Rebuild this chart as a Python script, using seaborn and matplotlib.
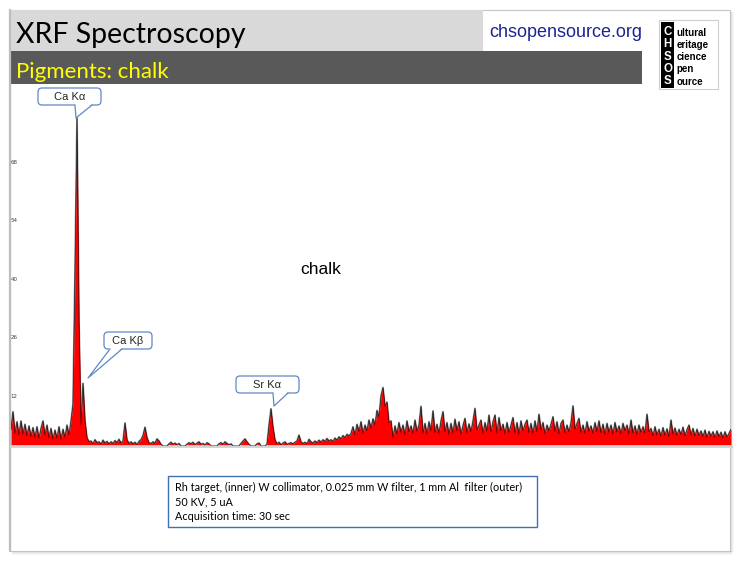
import numpy as np
import matplotlib
matplotlib.use("Agg")
import matplotlib.pyplot as plt
import seaborn as sns
from matplotlib.patches import Rectangle, FancyBboxPatch, Polygon
from matplotlib.lines import Line2D

# ---------------- data ----------------
e_start, e_stop = 0.13, 38.98          # keV range of the channels shown
counts = [
    4.0, 8.2, 3.0, 5.8, 2.6, 6.0, 2.8, 5.2, 2.4, 4.8,
    2.2, 4.4, 2.0, 4.6, 1.8, 4.2, 6.0, 2.6, 5.0, 1.9,
    4.2, 1.6, 3.8, 1.8, 4.6, 1.5, 4.0, 2.0, 5.0, 2.6,
    6.0, 10.0, 42.0, 78.5, 30.0, 5.0, 15.0, 6.0, 2.0, 1.0,
    1.2, 0.5, 1.5, 0.8, 1.0, 0.4, 1.4, 0.7, 1.1, 0.5,
    1.0, 0.6, 1.3, 0.8, 1.6, 0.7, 1.2, 5.5, 1.5, 0.6,
    1.0, 0.5, 0.9, 0.3, 1.1, 1.5, 2.5, 4.5, 2.0, 0.8,
    0.6, 1.0, 0.7, 1.7, 1.2, 0.4, 0.0, 0.0, 0.0, 0.5,
    0.9, 0.4, 0.7, 0.3, 0.6, 0.0, 0.0, 0.0, 0.4, 0.8,
    0.5, 0.9, 0.3, 0.7, 1.0, 0.4, 0.6, 0.2, 0.8, 0.5,
    0.0, 0.0, 0.0, 0.0, 0.5, 0.8, 0.4, 1.0, 0.6, 0.3,
    0.5, 0.0, 0.0, 0.0, 0.0, 0.6, 1.2, 1.7, 1.0, 0.4,
    0.0, 0.0, 0.0, 0.5, 0.7, 0.0, 0.0, 0.0, 0.4, 5.0,
    8.9, 4.5, 1.5, 0.5, 0.9, 0.3, 0.7, 1.0, 0.4, 0.6,
    0.8, 0.5, 0.9, 1.2, 2.6, 1.0, 0.6, 0.9, 0.5, 1.6,
    1.0, 0.7, 1.2, 0.8, 1.4, 0.9, 1.5, 1.1, 1.8, 1.2,
    1.5, 1.1, 1.9, 1.4, 2.2, 1.7, 2.5, 2.0, 2.8, 2.4,
    3.0, 4.6, 2.6, 5.2, 3.4, 5.8, 3.0, 5.0, 3.6, 6.2,
    4.2, 6.5, 5.0, 8.5, 7.0, 12.0, 14.0, 9.5, 10.5, 5.5,
    6.0, 2.0, 4.8, 2.8, 5.6, 3.2, 5.0, 2.6, 6.0, 3.4,
    4.8, 2.9, 6.2, 3.5, 5.0, 9.5, 3.0, 5.4, 2.8, 5.8,
    3.6, 8.4, 3.2, 5.2, 2.9, 6.0, 8.2, 3.3, 5.6, 2.7,
    5.4, 3.0, 6.4, 3.6, 5.8, 2.8, 4.9, 6.6, 3.1, 5.3,
    3.4, 6.0, 9.0, 3.8, 5.0, 6.2, 2.9, 5.6, 3.5, 7.4,
    3.3, 5.8, 7.4, 3.0, 6.8, 3.6, 5.2, 2.8, 5.6, 3.2,
    5.0, 6.8, 3.0, 5.6, 2.7, 6.0, 3.6, 5.2, 6.2, 3.1,
    5.4, 2.9, 6.0, 3.4, 7.6, 3.8, 5.6, 2.8, 5.0, 3.6,
    5.2, 7.0, 3.4, 5.8, 2.8, 5.4, 6.2, 3.0, 5.0, 3.3,
    5.6, 9.6, 4.0, 5.4, 6.6, 3.2, 5.0, 2.9, 5.8, 3.5,
    4.8, 3.0, 5.6, 3.4, 6.0, 3.1, 5.2, 2.7, 5.4, 3.2,
    5.0, 2.8, 5.6, 3.3, 4.8, 2.9, 5.4, 3.6, 5.0, 2.8,
    6.2, 3.0, 4.8, 2.7, 5.0, 3.2, 4.6, 3.0, 7.6, 3.4,
    4.2, 2.4, 4.6, 2.6, 4.0, 2.3, 4.4, 2.5, 4.1, 2.2,
    6.2, 2.8, 4.3, 2.5, 4.0, 2.7, 4.5, 2.4, 3.9, 5.0,
    2.6, 4.2, 2.3, 4.0, 2.5, 3.6, 2.2, 3.8, 2.0, 3.5,
    2.3, 3.4, 2.0, 3.6, 2.2, 3.3, 1.9, 3.4, 2.1, 3.0, 4.0,
]
energy = np.linspace(e_start, e_stop, len(counts))   # channel calibration
y_ticks = [12, 26, 40, 54, 68]
y_max = 86.4

title = "XRF Spectroscopy"
subtitle = "Pigments: chalk"
site = "chsopensource.org"
sample_name = "chalk"
peak_labels = ["Ca Kα", "Ca Kβ", "Sr Kα"]
logo_letters = ["C", "H", "S", "O", "S"]
logo_words = ["ultural", "eritage", "cience", "pen", "ource"]
caption_lines = [
    "Rh target, (inner) W collimator, 0.025 mm W filter, 1 mm Al  filter (outer)",
    "50 KV, 5 uA",
    "Acquisition time: 30 sec",
]

# ---------------- figure ----------------
sns.set_theme(style="white")
plt.rcParams['font.family'] = ['DejaVu Sans']

W, H = 742, 562
fig = plt.figure(figsize=(W / 100, H / 100), dpi=100)
fig.patch.set_facecolor('white')


def frame(x0, y0, x1, y1):
    return [x0 / W, 1 - y1 / H, (x1 - x0) / W, (y1 - y0) / H]


# background layer (pixel coordinates, y downward) for slide decoration
bg = fig.add_axes([0, 0, 1, 1], zorder=0)
bg.set_xlim(0, W)
bg.set_ylim(H, 0)
bg.axis('off')

for i, a in enumerate([0.35, 0.22, 0.12, 0.06]):
    bg.add_patch(Rectangle((12, 551 + i), 720, 1, fc='#808080', ec='none', alpha=a))
    bg.add_patch(Rectangle((730 + i, 12), 1, 540, fc='#808080', ec='none', alpha=a))
bg.add_patch(Rectangle((10, 10), 720, 541, fc='white', ec='#c4c4c4', lw=0.8))
bg.add_line(Line2D([10, 10], [10, 551], color='#bdbdbd', lw=1.6))

# header blocks
bg.add_patch(Rectangle((10, 10), 473, 41, fc='#d9d9d9', ec='none'))
bg.add_patch(Rectangle((10, 51), 632, 33, fc='#595959', ec='none'))
bg.text(16, 43, title, fontsize=20.5, family=['Lato', 'DejaVu Sans'], color='black',
        ha='left', va='baseline')
bg.text(16, 78, subtitle, fontsize=16, family=['Lato', 'DejaVu Sans'], color='#ffff00',
        ha='left', va='baseline')
bg.text(489, 37, site, fontsize=13, family=['Liberation Sans', 'DejaVu Sans'], color='#1c2490',
        ha='left', va='baseline')

# logo
bg.add_patch(Rectangle((659, 20), 59, 69, fc='white', ec='#cfcfcf', lw=0.8))
bg.add_patch(Rectangle((661, 22), 13, 66, fc='black', ec='none'))
for k, (L, wd) in enumerate(zip(logo_letters, logo_words)):
    yc = 32 + k * 12.3
    bg.text(667.5, yc, L, fontsize=8.3, fontweight='bold', color='white',
            family=['Liberation Sans', 'DejaVu Sans'], ha='center', va='center')
    bg.text(676.5, yc + 0.5, wd, fontsize=7.0, fontweight='bold', color='black',
            family=['Liberation Sans Narrow', 'Liberation Sans', 'DejaVu Sans'],
            ha='left', va='center')

# ---------------- spectrum ----------------
ax = fig.add_axes(frame(11, 85, 731, 446), zorder=2)
ax.patch.set_alpha(0)
sns.lineplot(x=energy, y=counts, ax=ax, color='#8a8a8a', lw=1.3, zorder=1)
ax.fill_between(energy, counts, 0, color='#ff0000', lw=0, zorder=2)
sns.lineplot(x=energy, y=counts, ax=ax, color='black', lw=0.45, alpha=0.85, zorder=3)
ax.set_xlim(e_start, e_stop)
ax.set_ylim(0, y_max)
ax.set_xticks([])
ax.set_yticks(y_ticks)
ax.set_yticklabels([str(t) for t in y_ticks])
ax.tick_params(axis='y', length=0, pad=-4.5, labelsize=4, labelcolor='#404040')
ax.set_xlabel('')
ax.set_ylabel('')
for s in ['top', 'right', 'left']:
    ax.spines[s].set_visible(False)
ax.spines['bottom'].set_color('#d2d2d2')
ax.spines['bottom'].set_linewidth(2.0)
ax.grid(False)

# ---------------- overlay annotations ----------------
ov = fig.add_axes([0, 0, 1, 1], zorder=5)
ov.set_xlim(0, W)
ov.set_ylim(H, 0)
ov.axis('off')
ov.patch.set_alpha(0)

ov.text(300, 269, sample_name, fontsize=12.5, family=['Liberation Sans', 'DejaVu Sans'],
        color='black', ha='left', va='center')

blue = '#5f88c6'


def callout(x0, y0, x1, y1, b0, b1, tip, text):
    ov.add_patch(FancyBboxPatch((x0, y0), x1 - x0, y1 - y0,
                                boxstyle="round,pad=0,rounding_size=4",
                                fc='white', ec=blue, lw=0.9))
    ov.add_patch(Polygon([(b0, y1 - 1.3), tip, (b1, y1 - 1.3)], closed=True,
                         fc='white', ec='none'))
    ov.add_line(Line2D([b0, tip[0], b1], [y1, tip[1], y1], color=blue, lw=0.9))
    ov.text((x0 + x1) / 2, (y0 + y1) / 2 + 0.5, text, fontsize=8,
            family=['Liberation Sans', 'DejaVu Sans'], ha='center', va='center')


callout(38, 88, 101, 105, 75, 92, (76, 118), peak_labels[0])
callout(104, 332, 152, 349, 110, 122, (88, 378), peak_labels[1])
callout(236, 376, 299, 393, 273, 288, (274, 406), peak_labels[2])

# caption box
ov.add_patch(Rectangle((168, 476), 369, 51, fc='white', ec='#3f6fb5', lw=1.0))
for k, line in enumerate(caption_lines):
    ov.text(175, 487 + k * 15, line, fontsize=7.85, family=['Lato', 'DejaVu Sans'],
            color='black', ha='left', va='center')

fig.savefig("out.png", dpi=100, facecolor='white')
